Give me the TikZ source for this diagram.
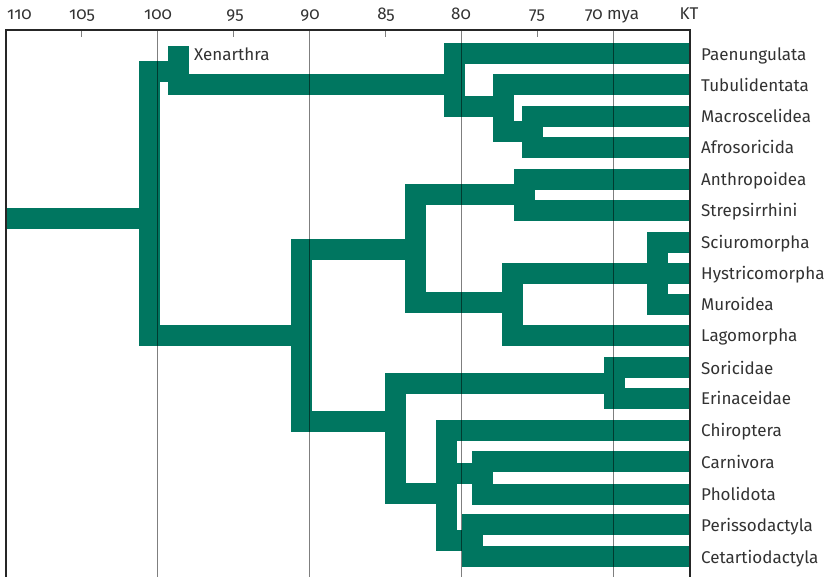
\documentclass[tikz,border=0pt]{standalone}
\usepackage{fontspec}
\setmainfont[Numbers=OldStyle]{Fira Sans}
\definecolor{tree}{RGB}{0,118,96}
\definecolor{ink}{RGB}{50,50,50}
\begin{document}
\begin{tikzpicture}[x=1pt,y=-1pt,
  bar/.style={draw=tree, line width=21pt, line join=miter, line cap=butt},
  gridline/.style={draw=black, opacity=0.5, line width=1.5pt},
  tick/.style={draw=black, opacity=0.5, line width=1.5pt},
  frameline/.style={draw=black!85, line width=2.2pt},
  taxon/.style={anchor=base west, font=\fontsize{17}{20}\selectfont, text=ink, inner sep=0pt},
  axislab/.style={anchor=base, font=\fontsize{17}{20}\selectfont, text=ink, inner sep=0pt}]
\useasboundingbox (0,0) rectangle (830,577);

% terminal ends
\coordinate (e0) at (690,53.8);
\coordinate (e1) at (690,85);
\coordinate (e2) at (690,116.3);
\coordinate (e3) at (690,147.3);
\coordinate (e4) at (690,179.2);
\coordinate (e5) at (690,210.2);
\coordinate (e6) at (690,242.2);
\coordinate (e7) at (690,273.3);
\coordinate (e8) at (690,304.2);
\coordinate (e9) at (690,335.3);
\coordinate (e10) at (690,367.5);
\coordinate (e11) at (690,398.3);
\coordinate (e12) at (690,430);
\coordinate (e13) at (690,461.7);
\coordinate (e14) at (690,494);
\coordinate (e15) at (690,524.5);
\coordinate (e16) at (690,556.7);
\coordinate (xen) at (189,56.5);

% internal nodes
\coordinate (start) at (5,218.7);
\coordinate (root) at (149.5,218.7);
\coordinate (atl) at (178.5,71.7);
\coordinate (afro) at (454.5,85);
\coordinate (tnode) at (503.8,106.2);
\coordinate (ma) at (532,131.7);
\coordinate (boreo) at (301.3,335.8);
\coordinate (euarch) at (415.8,249.2);
\coordinate (prim) at (524.2,194.5);
\coordinate (glires) at (512.5,302.5);
\coordinate (rod) at (657.5,273.3);
\coordinate (laur) at (395.5,421.7);
\coordinate (eulip) at (614.5,383);
\coordinate (scrot) at (446.7,493.3);
\coordinate (carnphol) at (482.2,473.3);
\coordinate (perican) at (472.2,540.5);

% tree
\draw[bar] (start) -- (root);
\draw[bar] (atl) -| (root) |- (boreo);
\draw[bar] (xen) -| (atl) |- (afro);
\draw[bar] (e0) -| (afro) |- (tnode);
\draw[bar] (e1) -| (tnode) |- (ma);
\draw[bar] (e2) -| (ma) |- (e3);
\draw[bar] (euarch) -| (boreo) |- (laur);
\draw[bar] (prim) -| (euarch) |- (glires);
\draw[bar] (e4) -| (prim) |- (e5);
\draw[bar] (rod) -| (glires) |- (e9);
\draw[bar] (e6) -| (rod) |- (e8);
\draw[bar] (rod) -- (e7);
\draw[bar] (eulip) -| (laur) |- (scrot);
\draw[bar] (e10) -| (eulip) |- (e11);
\draw[bar] (e12) -| (scrot) |- (perican);
\draw[bar] (scrot |- carnphol) -- (carnphol);
\draw[bar] (e13) -| (carnphol) |- (e14);
\draw[bar] (e15) -| (perican) |- (e16);

% time grid
\foreach \gx in {157.5,309.5,461.7,613.3} \draw[gridline] (\gx,30) -- (\gx,577);
\foreach \gx in {81.5,233.5,385.5,537.5} \draw[tick] (\gx,30) -- (\gx,37.5);

% frame
\draw[frameline] (6,577) -- (6,30) -- (690.3,30) -- (690.3,577);

% axis labels
\node[axislab] (a110) at (19.5,20) {110};
\node[axislab] (a105) at (82,20) {105};
\node[axislab] (a100) at (158,20) {100};
\node[axislab] (a95) at (235,20) {95};
\node[axislab] (a90) at (310,20) {90};
\node[axislab] (a85) at (386,20) {85};
\node[axislab] (a80) at (461,20) {80};
\node[axislab] (a75) at (537,20) {75};
\node[axislab] (a70) at (612,20) {70 mya};
\node[axislab] (aKT) at (689,20) {KT};

% taxa
\node[taxon] (xenl) at (194,60.7) {Xenarthra};
\node[taxon] (l0) at (701,60.3) {Paenungulata};
\node[taxon] (l1) at (701,91.5) {Tubulidentata};
\node[taxon] (l2) at (701,122.8) {Macroscelidea};
\node[taxon] (l3) at (701,153.8) {Afrosoricida};
\node[taxon] (l4) at (701,185.7) {Anthropoidea};
\node[taxon] (l5) at (701,216.7) {Strepsirrhini};
\node[taxon] (l6) at (701,248.7) {Sciuromorpha};
\node[taxon] (l7) at (701,279.8) {Hystricomorpha};
\node[taxon] (l8) at (701,310.7) {Muroidea};
\node[taxon] (l9) at (701,341.8) {Lagomorpha};
\node[taxon] (l10) at (701,374) {Soricidae};
\node[taxon] (l11) at (701,404.8) {Erinaceidae};
\node[taxon] (l12) at (701,436.5) {Chiroptera};
\node[taxon] (l13) at (701,468.2) {Carnivora};
\node[taxon] (l14) at (701,500.5) {Pholidota};
\node[taxon] (l15) at (701,531) {Perissodactyla};
\node[taxon] (l16) at (701,563.2) {Cetartiodactyla};
\end{tikzpicture}
\end{document}
